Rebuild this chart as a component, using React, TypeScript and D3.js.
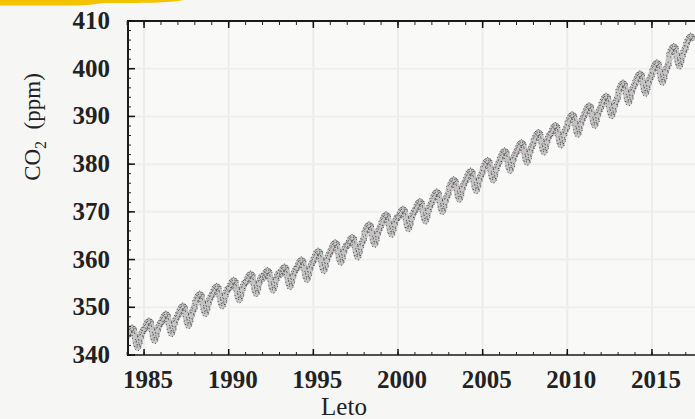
import React from "react";
import * as d3 from "d3";

const W = 695;
const H = 419;

const xTicks = [1985, 1990, 1995, 2000, 2005, 2010, 2015];
const yTicks = [340, 350, 360, 370, 380, 390, 400, 410];
const startYear = 1984;

// Monthly global mean CO2 (ppm), one row per year, Jan..Dec
const co2Monthly: number[][] = [
  [344.07, 344.77, 345.37, 345.67, 345.37, 343.87, 342.27, 341.57, 342.47, 343.67, 344.57, 345.17],
  [345.54, 346.24, 346.84, 347.14, 346.84, 345.34, 343.74, 343.04, 343.94, 345.14, 346.04, 346.64],
  [346.97, 347.67, 348.27, 348.57, 348.27, 346.77, 345.17, 344.47, 345.37, 346.57, 347.47, 348.07],
  [348.68, 349.38, 349.98, 350.28, 349.98, 348.48, 346.88, 346.18, 347.08, 348.28, 349.18, 349.78],
  [351.16, 351.86, 352.46, 352.76, 352.46, 350.96, 349.36, 348.66, 349.56, 350.76, 351.66, 352.26],
  [352.79, 353.49, 354.09, 354.39, 354.09, 352.59, 350.99, 350.29, 351.19, 352.39, 353.29, 353.89],
  [354.06, 354.76, 355.36, 355.66, 355.36, 353.86, 352.26, 351.56, 352.46, 353.66, 354.56, 355.16],
  [355.39, 356.09, 356.69, 356.99, 356.69, 355.19, 353.59, 352.89, 353.79, 354.99, 355.89, 356.49],
  [356.09, 356.79, 357.39, 357.69, 357.39, 355.89, 354.29, 353.59, 354.49, 355.69, 356.59, 357.19],
  [356.83, 357.53, 358.13, 358.43, 358.13, 356.63, 355.03, 354.33, 355.23, 356.43, 357.33, 357.93],
  [358.33, 359.03, 359.63, 359.93, 359.63, 358.13, 356.53, 355.83, 356.73, 357.93, 358.83, 359.43],
  [360.17, 360.87, 361.47, 361.77, 361.47, 359.97, 358.37, 357.67, 358.57, 359.77, 360.67, 361.27],
  [361.93, 362.63, 363.23, 363.53, 363.23, 361.73, 360.13, 359.43, 360.33, 361.53, 362.43, 363.03],
  [363.05, 363.75, 364.35, 364.65, 364.35, 362.85, 361.25, 360.55, 361.45, 362.65, 363.55, 364.15],
  [365.70, 366.40, 367.00, 367.30, 367.00, 365.50, 363.90, 363.20, 364.10, 365.30, 366.20, 366.80],
  [367.79, 368.49, 369.09, 369.39, 369.09, 367.59, 365.99, 365.29, 366.19, 367.39, 368.29, 368.89],
  [368.96, 369.66, 370.26, 370.56, 370.26, 368.76, 367.16, 366.46, 367.36, 368.56, 369.46, 370.06],
  [370.57, 371.27, 371.87, 372.17, 371.87, 370.37, 368.77, 368.07, 368.97, 370.17, 371.07, 371.67],
  [372.58, 373.28, 373.88, 374.18, 373.88, 372.38, 370.78, 370.08, 370.98, 372.18, 373.08, 373.68],
  [375.14, 375.84, 376.44, 376.74, 376.44, 374.94, 373.34, 372.64, 373.54, 374.74, 375.64, 376.24],
  [376.95, 377.65, 378.25, 378.55, 378.25, 376.75, 375.15, 374.45, 375.35, 376.55, 377.45, 378.05],
  [379.18, 379.88, 380.48, 380.78, 380.48, 378.98, 377.38, 376.68, 377.58, 378.78, 379.68, 380.28],
  [381.18, 381.88, 382.48, 382.78, 382.48, 380.98, 379.38, 378.68, 379.58, 380.78, 381.68, 382.28],
  [382.90, 383.60, 384.20, 384.50, 384.20, 382.70, 381.10, 380.40, 381.30, 382.50, 383.40, 384.00],
  [385.02, 385.72, 386.32, 386.62, 386.32, 384.82, 383.22, 382.52, 383.42, 384.62, 385.52, 386.12],
  [386.50, 387.20, 387.80, 388.10, 387.80, 386.30, 384.70, 384.00, 384.90, 386.10, 387.00, 387.60],
  [388.76, 389.46, 390.06, 390.36, 390.06, 388.56, 386.96, 386.26, 387.16, 388.36, 389.26, 389.86],
  [390.63, 391.33, 391.93, 392.23, 391.93, 390.43, 388.83, 388.13, 389.03, 390.23, 391.13, 391.73],
  [392.65, 393.35, 393.95, 394.25, 393.95, 392.45, 390.85, 390.15, 391.05, 392.25, 393.15, 393.75],
  [395.40, 396.10, 396.70, 397.00, 396.70, 395.20, 393.60, 392.90, 393.80, 395.00, 395.90, 396.50],
  [397.34, 398.04, 398.64, 398.94, 398.64, 397.14, 395.54, 394.84, 395.74, 396.94, 397.84, 398.44],
  [399.65, 400.35, 400.95, 401.25, 400.95, 399.45, 397.85, 397.15, 398.05, 399.25, 400.15, 400.75],
  [403.06, 403.76, 404.36, 404.66, 404.36, 402.86, 401.26, 400.56, 401.46, 402.66, 403.56, 404.16],
  [405.22, 405.92, 406.52, 406.82, 406.52],
];

// Annual means (trend line)
const annualMean = [
  344.07, 345.54, 346.97, 348.68, 351.16, 352.79, 354.06, 355.39, 356.09, 356.83,
  358.33, 360.17, 361.93, 363.05, 365.70, 367.79, 368.96, 370.57, 372.58, 375.14,
  376.95, 379.18, 381.18, 382.90, 385.02, 386.50, 388.76, 390.63, 392.65, 395.40,
  397.34, 399.65, 403.06,
];

const FONT = "'Liberation Serif', 'DejaVu Serif', serif";

export default function App() {
  const left = 128, top = 21, bottom = 355, right = 712;
  const x = d3.scaleLinear().domain([1984.052, 1984.052 + (right - left) / 16.93]).range([left, right]);
  const y = d3.scaleLinear().domain([340, 410]).range([bottom, top]);

  const pts: [number, number][] = [];
  co2Monthly.forEach((row, i) => {
    row.forEach((v, j) => {
      pts.push([startYear + i + (j + 0.5) / 12, v]);
    });
  });
  const trend: [number, number][] = annualMean.map((v, i) => [startYear + i + 0.5, v]);

  const line = d3
    .line<[number, number]>()
    .x((d) => x(d[0]))
    .y((d) => y(d[1]))
    .curve(d3.curveCatmullRom);

  const minorX = d3.range(1984, 2019);
  const minorY = d3.range(340, 411, 2);

  return (
    <div style={{ position: "fixed", left: 0, top: 0, width: W, height: H }}>
      <svg width={W} height={H} style={{ display: "block" }}>
        <defs>
          <clipPath id="plot">
            <rect x={left} y={top} width={right - left} height={bottom - top} />
          </clipPath>
        </defs>
        <rect x={0} y={0} width={W} height={H} fill="#f6f6f4" />
        <rect x={left} y={top} width={W - left} height={bottom - top} fill="#f9f9f8" />
        {/* yellow highlighter mark */}
        <path d="M0,0 L184,0 C170,3 140,3 105,3 C95,4 90,5 80,5.5 L0,5.5 Z" fill="#f4c300" />

        {/* faint grid */}
        <g clipPath="url(#plot)">
          {xTicks.map((t) => (
            <line key={"gx" + t} x1={x(t)} x2={x(t)} y1={top} y2={bottom} stroke="#ececea" strokeWidth={2} />
          ))}
          {yTicks.map((t) => (
            <line key={"gy" + t} x1={left} x2={right} y1={y(t)} y2={y(t)} stroke="#efefed" strokeWidth={2} />
          ))}
        </g>

        {/* data */}
        <g clipPath="url(#plot)">
          <path d={line(trend) || ""} fill="none" stroke="#e7a9b8" strokeWidth={1.2} opacity={0.8} />
          <path d={line(pts) || ""} fill="none" stroke="#bdbdbd" strokeWidth={6.5} strokeLinejoin="round" strokeLinecap="round" opacity={0.85} />
          {pts.map((d, i) => (
            <circle
              key={i}
              cx={x(d[0])}
              cy={y(d[1])}
              r={3}
              fill="none"
              stroke="#222"
              strokeWidth={0.9}
              strokeDasharray="0.9 2.4"
            />
          ))}
        </g>

        {/* frame */}
        <line x1={left} x2={left} y1={top - 1} y2={bottom + 1} stroke="#1a1a1a" strokeWidth={2} />
        <line x1={left - 1} x2={W} y1={top} y2={top} stroke="#1a1a1a" strokeWidth={2} />
        <line x1={left - 1} x2={W} y1={bottom} y2={bottom} stroke="#1a1a1a" strokeWidth={1.6} />

        {/* x ticks */}
        {minorX.map((t) => (
          <g key={"mx" + t}>
            <line x1={x(t)} x2={x(t)} y1={bottom} y2={bottom - 3} stroke="#222" strokeWidth={1} />
            <line x1={x(t)} x2={x(t)} y1={top} y2={top + 4} stroke="#222" strokeWidth={1} />
          </g>
        ))}
        {xTicks.map((t) => (
          <g key={"x" + t}>
            <line x1={x(t)} x2={x(t)} y1={bottom} y2={bottom - 6} stroke="#111" strokeWidth={1.5} />
            <line x1={x(t)} x2={x(t)} y1={top} y2={top + 7} stroke="#111" strokeWidth={1.5} />
            <text
              x={x(t) + 4}
              y={388}
              textAnchor="middle"
              fontFamily={FONT}
              fontWeight="bold"
              fontSize={25}
              fill="#222"
            >
              {t}
            </text>
          </g>
        ))}

        {/* y ticks */}
        {minorY.map((t) => (
          <line key={"my" + t} x1={left} x2={left + 3} y1={y(t)} y2={y(t)} stroke="#222" strokeWidth={1} />
        ))}
        {yTicks.map((t) => (
          <g key={"y" + t}>
            <line x1={left} x2={left + 7} y1={y(t)} y2={y(t)} stroke="#111" strokeWidth={1.5} />
            <text
              x={110}
              y={y(t) + 8}
              textAnchor="end"
              fontFamily={FONT}
              fontWeight="bold"
              fontSize={25}
              fill="#222"
            >
              {t}
            </text>
          </g>
        ))}

        {/* axis titles */}
        <text
          transform="translate(40,127) rotate(-90)"
          textAnchor="middle"
          fontFamily={FONT}
          fontSize={23}
          fill="#222"
        >
          CO
          <tspan fontSize={16} dy={6}>2</tspan>
          <tspan dy={-6}>{"\u00a0\u00a0(ppm)"}</tspan>
        </text>
        <text x={344} y={415} textAnchor="middle" fontFamily={FONT} fontSize={25} fill="#222">
          Leto
        </text>
      </svg>
    </div>
  );
}
